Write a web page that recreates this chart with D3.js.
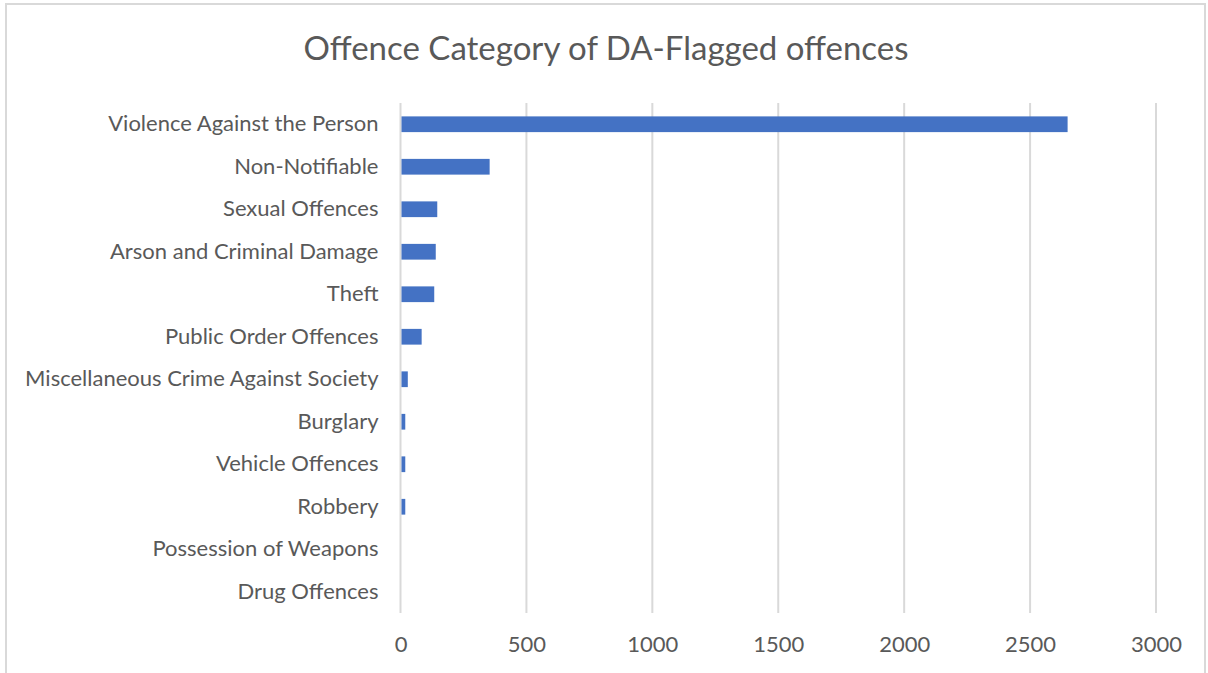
<!DOCTYPE html>
<html>
<head>
<meta charset="utf-8">
<script src="https://cdn.jsdelivr.net/npm/d3@7"></script>
<style>
  html, body { margin: 0; padding: 0; background: #fff; }
  svg { display: block; }
  text { font-family: Lato, "Open Sans", sans-serif; fill: #595959; }
</style>
</head>
<body>
<svg id="chart" width="1208" height="673"></svg>
<script>
// Offence categories, top to bottom
const categories = [
  "Violence Against the Person",
  "Non-Notifiable",
  "Sexual Offences",
  "Arson and Criminal Damage",
  "Theft",
  "Public Order Offences",
  "Miscellaneous Crime Against Society",
  "Burglary",
  "Vehicle Offences",
  "Robbery",
  "Possession of Weapons",
  "Drug Offences"
];
// Number of DA-flagged offences per category
const counts = [2645, 350, 142, 136, 130, 80, 25, 15, 15, 15, 0, 0];
// Value axis ticks
const xTicks = [0, 500, 1000, 1500, 2000, 2500, 3000];
const title = "Offence Category of DA-Flagged offences";

const svg = d3.select("#chart");
const plot = { left: 400.5, right: 1156, top: 103, bottom: 613 };

// chart frame
svg.append("rect")
  .attr("x", 6).attr("y", 4)
  .attr("width", 1199).attr("height", 680)
  .attr("fill", "#fff")
  .attr("stroke", "#d9d9d9").attr("stroke-width", 2);

svg.append("text")
  .attr("x", 606).attr("y", 60)
  .attr("text-anchor", "middle")
  .attr("font-size", 33)
  .text(title);

const x = d3.scaleLinear().domain([0, 3000]).range([plot.left, plot.right]);
const y = d3.scaleBand().domain(categories).range([plot.top, plot.bottom]).paddingInner(0.63).paddingOuter(0.315);

// vertical gridlines
svg.append("g").selectAll("line").data(xTicks).join("line")
  .attr("x1", d => x(d)).attr("x2", d => x(d))
  .attr("y1", plot.top).attr("y2", plot.bottom)
  .attr("stroke", "#d9d9d9").attr("stroke-width", 2);

// value axis labels
const xAxis = d3.axisBottom(x).tickValues(xTicks).tickFormat(d3.format("d")).tickSize(0).tickPadding(0);
const gx = svg.append("g").attr("transform", `translate(0,${plot.bottom + 23})`).call(xAxis);
gx.select(".domain").remove();
gx.selectAll("text")
  .attr("font-family", "Lato, 'Open Sans', sans-serif")
  .attr("font-size", 22).attr("fill", "#595959").attr("dy", "0.71em");

// category axis labels
const yAxis = d3.axisLeft(y).tickSize(0).tickPadding(22);
const gy = svg.append("g").attr("transform", `translate(${plot.left},0)`).call(yAxis);
gy.select(".domain").remove();
gy.selectAll("text")
  .attr("font-family", "Lato, 'Open Sans', sans-serif")
  .attr("font-size", 22).attr("fill", "#595959");

// bars
svg.append("g").selectAll("rect").data(categories).join("rect")
  .attr("x", x(0) + 1)
  .attr("y", d => y(d))
  .attr("width", (d, i) => Math.max(0, x(counts[i]) - x(0)))
  .attr("height", y.bandwidth())
  .attr("fill", "#4472c4");
</script>
</body>
</html>
